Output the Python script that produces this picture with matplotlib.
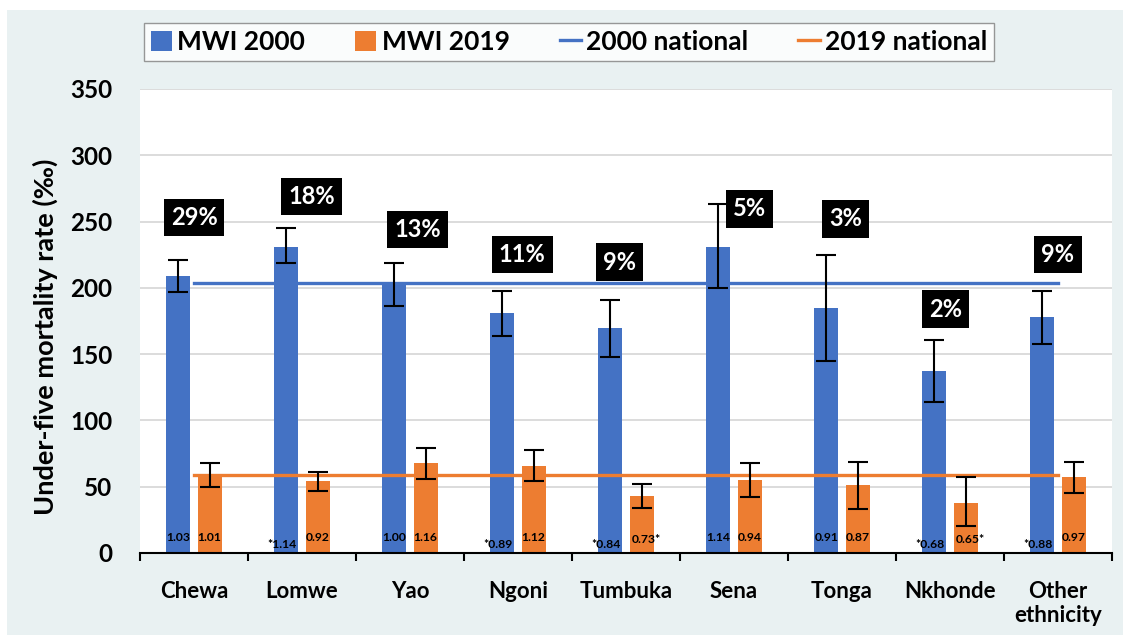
import matplotlib
matplotlib.use("Agg")
import numpy as np
import matplotlib.pyplot as plt
from matplotlib.patches import Rectangle, Patch
from matplotlib.lines import Line2D

# Data
groups = ["Chewa", "Lomwe", "Yao", "Ngoni", "Tumbuka", "Sena", "Tonga", "Nkhonde", "Other\nethnicity"]

u5mr_2000 = [209, 231, 204, 181, 170, 231, 185, 137, 178]
lo_2000 = [197, 219, 186, 164, 148, 200, 145, 114, 158]
hi_2000 = [221, 245, 219, 198, 191, 263, 225, 161, 198]

u5mr_2019 = [58, 54, 68, 66, 43, 55, 51, 38, 57]
lo_2019 = [50, 47, 56, 54, 34, 42, 33, 20, 45]
hi_2019 = [68, 61, 79, 78, 52, 68, 69, 57, 69]

national_2000 = 203.5
national_2019 = 59

shares = ["29%", "18%", "13%", "11%", "9%", "5%", "3%", "2%", "9%"]
ratio_2000 = ["1.03", "*1.14", "1.00", "*0.89", "*0.84", "1.14", "0.91", "*0.68", "*0.88"]
ratio_2019 = ["1.01", "0.92", "1.16", "1.12", "0.73*", "0.94", "0.87", "0.65*", "0.97"]

# layout for the share boxes (x offset from category centre, y centre in data units)
share_dx = [0.0, 0.09, 0.07, 0.04, -0.06, 0.145, 0.03, -0.04, 0.0]
share_y = [253, 269, 244, 225, 219.5, 259.5, 252, 184, 225]

BLUE = "#4472C4"
ORANGE = "#ED7D31"
PANEL = "#E9F1F2"

plt.rcParams["font.family"] = ["Lato", "DejaVu Sans"]
plt.rcParams["font.weight"] = "bold"

W, H = 1123, 635
fig = plt.figure(figsize=(W / 100, H / 100), dpi=100)
fig.patch.set_facecolor("white")
fig.patches.append(Rectangle((7 / W, 0), 1 - 7 / W, 1 - 10 / H, transform=fig.transFigure,
                             facecolor=PANEL, edgecolor="none", zorder=-5))

ax = fig.add_axes([140 / W, (H - 553) / H, (1112 - 140) / W, (553 - 89) / H])
ax.set_facecolor("white")

x = np.arange(len(groups))
bw = 0.22
off = 0.145

ax.bar(x - off, u5mr_2000, bw, color=BLUE, zorder=2)
ax.bar(x + off, u5mr_2019, bw, color=ORANGE, zorder=2)

err_2000 = [np.array(u5mr_2000) - np.array(lo_2000), np.array(hi_2000) - np.array(u5mr_2000)]
err_2019 = [np.array(u5mr_2019) - np.array(lo_2019), np.array(hi_2019) - np.array(u5mr_2019)]
ax.errorbar(x - off, u5mr_2000, yerr=err_2000, fmt="none", ecolor="black",
            elinewidth=1.5, capsize=7, capthick=1.5, zorder=4)
ax.errorbar(x + off, u5mr_2019, yerr=err_2019, fmt="none", ecolor="black",
            elinewidth=1.5, capsize=7, capthick=1.5, zorder=4)

ax.plot([x[0], x[-1]], [national_2000] * 2, color=BLUE, lw=2.4, zorder=3)
ax.plot([x[0], x[-1]], [national_2019] * 2, color=ORANGE, lw=2.4, zorder=3)

# ratio labels at the bar bases
for i in range(len(groups)):
    s = ratio_2000[i]
    dx = -0.04 if s.startswith("*") else 0
    yy = 6.5 if s.startswith("*") else 12
    ax.text(x[i] - off + dx, yy, s, ha="center", va="center", fontsize=8.7, color="black", zorder=5)
    s = ratio_2019[i]
    dx = 0.04 if s.endswith("*") else 0
    yy = 10.5 if s.endswith("*") else 12
    ax.text(x[i] + off + dx, yy, s, ha="center", va="center", fontsize=8.7, color="black", zorder=5)

# population share boxes
for i, s in enumerate(shares):
    ax.text(x[i] + share_dx[i], share_y[i], s, ha="center", va="center", fontsize=17,
            color="white", zorder=6,
            bbox=dict(boxstyle="square,pad=0.3", facecolor="black", edgecolor="none"))

ax.set_xlim(-0.5, len(groups) - 0.5)
ax.set_ylim(0, 350)
ax.set_yticks(np.arange(0, 351, 50))
ax.yaxis.grid(True, color="#D9D9D9", lw=1.3, zorder=0)
ax.set_axisbelow(True)
ax.tick_params(axis="y", length=0, pad=20, labelsize=17.5)

ax.set_xticks(x)
ax.set_xticklabels(groups, fontsize=16, linespacing=1.2)
ax.set_xticks(np.arange(-0.5, len(groups)), minor=True)
ax.tick_params(axis="x", which="major", length=0, pad=20)
ax.tick_params(axis="x", which="minor", length=6, width=1.5, direction="out", color="black")

for side in ["left", "right", "top"]:
    ax.spines[side].set_visible(False)
ax.spines["bottom"].set_linewidth(1.5)
ax.spines["bottom"].set_color("black")

fig.text(45 / W, 1 - 337 / H, "Under-five mortality rate (\u2030)", rotation=90,
         ha="center", va="center", fontsize=19.5)

handles = [Patch(facecolor=BLUE), Patch(facecolor=ORANGE),
           Line2D([], [], color=BLUE, lw=2.4), Line2D([], [], color=ORANGE, lw=2.4)]
labels = ["MWI 2000", "MWI 2019", "2000 national", "2019 national"]
leg = fig.legend(handles, labels, loc="center", bbox_to_anchor=(569 / W, 1 - 42 / H), ncol=4,
                 fontsize=19, frameon=True, fancybox=False, edgecolor="#7F7F7F",
                 handlelength=0.8, handleheight=0.8, handletextpad=0.2, columnspacing=1.9,
                 borderpad=0.25)
leg.get_frame().set_linewidth(1.0)

fig.savefig("out.png", dpi=100)
